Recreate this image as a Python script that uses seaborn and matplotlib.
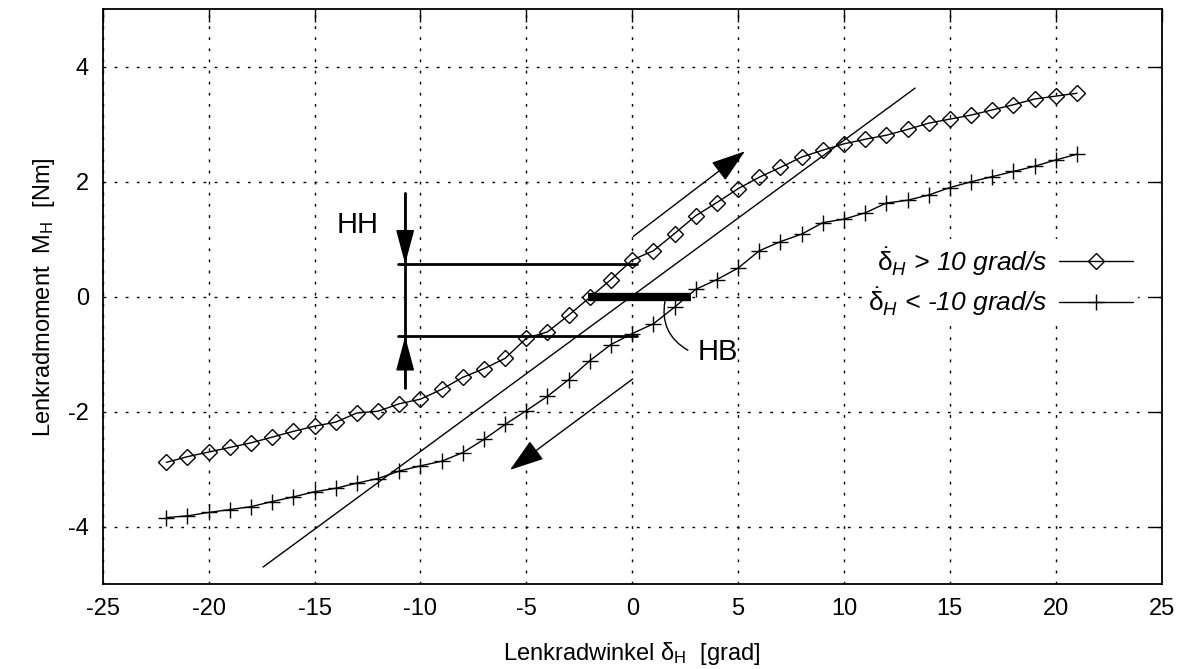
import pandas as pd
import matplotlib
matplotlib.use("Agg")
import matplotlib.pyplot as plt
import seaborn as sns

# Messwerte: Lenkradwinkel [grad] und Lenkradmoment [Nm]
winkel = list(range(-22, 22))
moment_pos = [-2.88, -2.78, -2.70, -2.62, -2.54, -2.44, -2.34, -2.25, -2.18, -2.02, -1.99,
              -1.86, -1.78, -1.61, -1.40, -1.25, -1.07, -0.72, -0.61, -0.32, -0.01, 0.30,
              0.64, 0.80, 1.10, 1.41, 1.64, 1.88, 2.08, 2.25, 2.43, 2.55, 2.66, 2.74,
              2.81, 2.91, 3.02, 3.09, 3.16, 3.25, 3.34, 3.44, 3.49, 3.54]
moment_neg = [-3.84, -3.81, -3.75, -3.70, -3.65, -3.56, -3.48, -3.39, -3.33, -3.24, -3.16,
              -3.03, -2.94, -2.86, -2.71, -2.48, -2.22, -1.98, -1.73, -1.44, -1.11, -0.83,
              -0.64, -0.47, -0.18, 0.13, 0.30, 0.50, 0.80, 0.96, 1.09, 1.29, 1.35, 1.46,
              1.63, 1.68, 1.77, 1.90, 2.00, 2.09, 2.18, 2.27, 2.38, 2.48]
labels = [r"$\dot{\mathrm{\delta}}_H$ > 10 grad/s", r"$\dot{\mathrm{\delta}}_H$ < -10 grad/s"]

# Hilfslinien
gerade_x = [-17.43, 13.36]
gerade_y = [-4.70, 3.63]
hh_x = -10.72
hh_oben, hh_unten = 0.57, -0.69
hb_links, hb_rechts = -2.07, 2.76

sns.set_style("white")
plt.rcParams["font.family"] = ["Liberation Sans", "DejaVu Sans"]
plt.rcParams["mathtext.fontset"] = "custom"
plt.rcParams["mathtext.rm"] = "Liberation Sans"
plt.rcParams["mathtext.it"] = "Liberation Sans:italic"
plt.rcParams["axes.unicode_minus"] = False
plt.rcParams["text.color"] = "black"
plt.rcParams["axes.labelcolor"] = "black"

fig, ax = plt.subplots(figsize=(11.85, 6.69), dpi=100)
fig.subplots_adjust(left=0.0867, right=0.9803, top=0.9861, bottom=0.1266)

df_pos = pd.DataFrame({"x": winkel, "y": moment_pos})
df_neg = pd.DataFrame({"x": winkel, "y": moment_neg})
sns.lineplot(data=df_pos, x="x", y="y", ax=ax, color="black", lw=1, marker="D",
             markersize=8.5, mfc="none", mec="black", mew=1, label=labels[0])
sns.lineplot(data=df_neg, x="x", y="y", ax=ax, color="black", lw=1, marker="+",
             markersize=12, mec="black", mew=1, label=labels[1])

ax.plot(gerade_x, gerade_y, color="black", lw=1)

# HH Markierung
ax.plot([hh_x, hh_x], [1.80, -1.59], color="black", lw=2)
ax.plot([-11.04, 0.21], [hh_oben, hh_oben], color="black", lw=2)
ax.plot([-11.04, 0.21], [hh_unten, hh_unten], color="black", lw=2)
pfeil = dict(arrowstyle="-|>,head_length=0.6,head_width=0.16", mutation_scale=36,
             color="black", lw=1.2, shrinkA=0, shrinkB=0)
ax.annotate("", xy=(hh_x, hh_oben), xytext=(hh_x, 1.80), arrowprops=pfeil)
ax.annotate("", xy=(hh_x, hh_unten), xytext=(hh_x, -1.59), arrowprops=pfeil)
ax.text(-12.95, 1.25, "HH", fontsize=21, ha="center", va="center")

# HB Balken
ax.plot([hb_links, hb_rechts], [0, 0], color="black", lw=6, solid_capstyle="butt")
ax.annotate("", xy=(1.55, -0.07), xytext=(2.63, -0.93),
            arrowprops=dict(arrowstyle="-", color="black", lw=1, shrinkA=0, shrinkB=0,
                            connectionstyle="arc3,rad=-0.35"))
ax.text(4.05, -0.96, "HB", fontsize=21, ha="center", va="center")

# Richtungspfeile
pfeil2 = dict(arrowstyle="-|>,head_length=0.6,head_width=0.2", mutation_scale=36,
              color="black", lw=1, shrinkA=0, shrinkB=0)
ax.annotate("", xy=(5.32, 2.53), xytext=(0.05, 1.05), arrowprops=pfeil2)
ax.annotate("", xy=(-5.77, -3.01), xytext=(0.02, -1.43), arrowprops=pfeil2)

ax.set_xlim(-25, 25)
ax.set_ylim(-5, 5)
ax.set_xticks(range(-25, 26, 5))
ax.set_yticks([-4, -2, 0, 2, 4])
ax.grid(True, color="black", linestyle=(0, (2, 6)), lw=1)
ax.tick_params(direction="in", length=9, width=1, top=True, right=True,
               labelsize=17, pad=10, colors="black")
for s in ax.spines.values():
    s.set_color("black")
    s.set_linewidth(1.3)

ax.set_xlabel(r"Lenkradwinkel $\mathrm{\delta_H}$  [grad]", fontsize=17, labelpad=14)
ax.set_ylabel(r"Lenkradmoment  $\mathrm{M_H}$  [Nm]", fontsize=17, labelpad=8)

leg = ax.legend(loc="center right", bbox_to_anchor=(0.978, 0.527), markerfirst=False,
                frameon=True, facecolor="white", edgecolor="none", framealpha=1,
                fancybox=False, prop={"style": "italic", "size": 19}, handlelength=2.8,
                handletextpad=0.45, labelspacing=0.28, borderpad=0.2, borderaxespad=0)

fig.savefig("out.png", dpi=100)
